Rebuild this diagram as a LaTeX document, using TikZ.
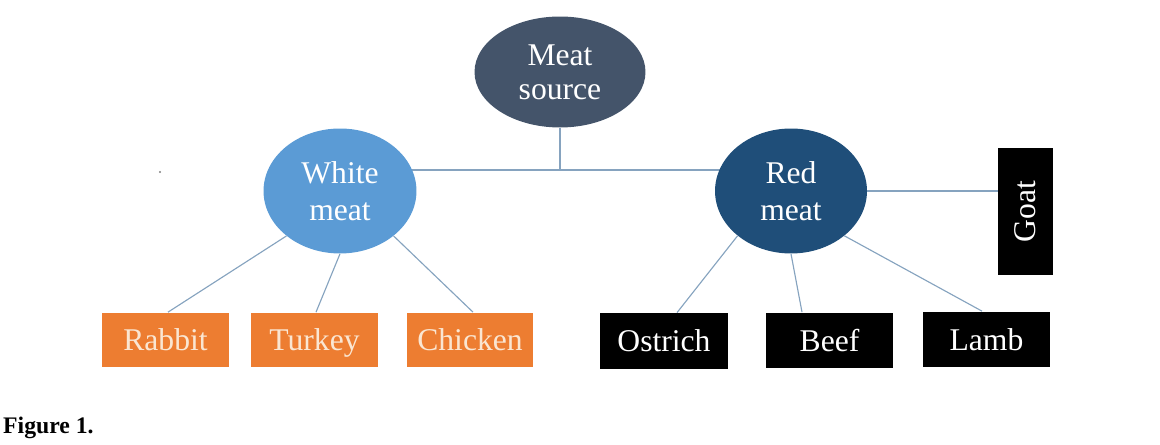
\documentclass[tikz,border=0pt]{standalone}
\usepackage{fontspec}
\setmainfont{Liberation Serif}
\usepackage{tikz}
\usetikzlibrary{shapes,backgrounds}
\definecolor{src_gray}{HTML}{44546A}
\definecolor{white_blue}{HTML}{5B9BD5}
\definecolor{red_blue}{HTML}{1F4E79}
\definecolor{meat_orange}{HTML}{ED7D31}
\definecolor{cream}{HTML}{FAE6D2}
\definecolor{link_blue}{HTML}{86A3BF}

\begin{document}
\begin{tikzpicture}[x=0.02cm,y=-0.02cm]
    \tikzstyle{label}=[text=black]
    \tikzstyle{oval}=[ellipse,draw=none,inner sep=0pt,text=white,align=center,font=\fontsize{18}{21}\selectfont]
    \tikzstyle{obox}=[rectangle,draw=none,fill=meat_orange,text=cream,minimum width=2.54cm,minimum height=1.1cm,text height=14pt,text depth=2pt,font=\fontsize{18}{21}\selectfont]
    \tikzstyle{kbox}=[rectangle,draw=none,fill=black,text=white,minimum width=2.56cm,minimum height=1.12cm,text height=14pt,text depth=2pt,font=\fontsize{18}{21}\selectfont]
    \tikzstyle{link}=[draw=link_blue,line width=0.65pt]

    \useasboundingbox (0,0) rectangle (1160,445);

    \node[oval,fill=src_gray,minimum width=3.42cm,minimum height=2.22cm,font=\fontsize{18}{19.5}\selectfont] (MS) at (560,72) {Meat\\source};
    \node[oval,fill=white_blue,minimum width=3.06cm,minimum height=2.5cm] (WM) at (340,191) {White\\meat};
    \node[oval,fill=red_blue,minimum width=3.04cm,minimum height=2.5cm] (RM) at (791,191) {Red\\meat};
    \node[kbox,minimum width=1.1cm,minimum height=2.54cm,text height=,text depth=] (G) at (1025.5,211.5) {\rotatebox{90}{Goat}};

    \node[obox] (R) at (165.5,340) {Rabbit};
    \node[obox] (T) at (314.5,340) {Turkey};
    \node[obox] (C) at (470,340) {Chicken};
    \node[kbox] (O) at (664,341) {Ostrich};
    \node[kbox] (B) at (829.5,340.5) {Beef};
    \node[kbox] (L) at (986.5,339.5) {Lamb};

    \node[label,anchor=base west,font=\fontsize{13.5}{15}\selectfont\bfseries] (F) at (-3,434) {Figure 1.};
    \fill[gray] (160,172) circle (1.2);

    \coordinate (J) at (560,170);
    \begin{scope}[on background layer]
     \draw[link] (MS) -- (J);
     \draw[link] (WM.center |- J) -- (RM.center |- J);
    \end{scope}
    \draw[link] (RM.east) -- (RM.east -| G.west);

    \path[link]
     (WM.220)   edge ([xshift=0.05cm]R.north)
     (WM.south) edge ([xshift=0.03cm]T.north)
     (WM.-40)   edge ([xshift=0.06cm]C.north)
     (RM.220)   edge ([xshift=0.26cm]O.north)
     (RM.south) edge ([xshift=-0.55cm]B.north)
     (RM.-40)   edge ([xshift=-0.09cm]L.north);
\end{tikzpicture}
\end{document}
